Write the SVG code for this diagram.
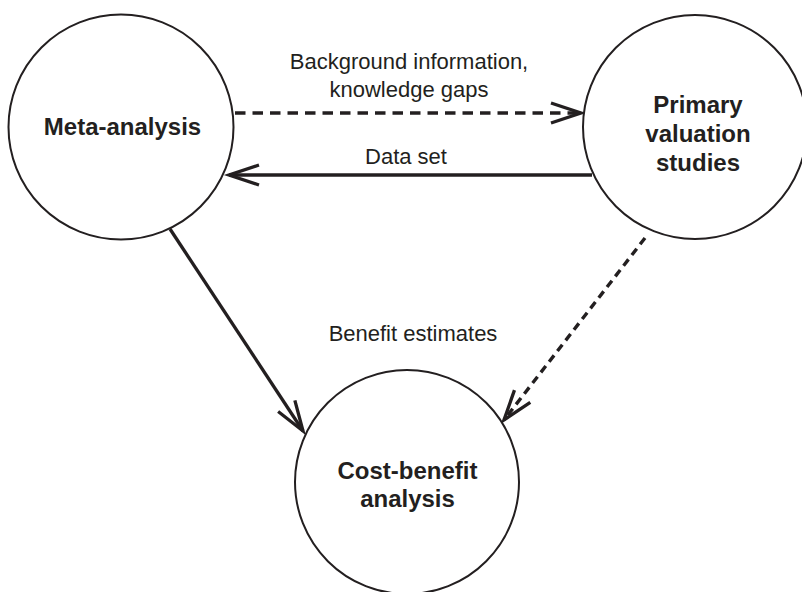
<svg xmlns="http://www.w3.org/2000/svg" width="802" height="592" viewBox="0 0 802 592">
  <style>
    .node { fill: #ffffff; stroke: #231f20; stroke-width: 2; }
    .title { font-family: "Liberation Sans", Arial, sans-serif; font-size: 24px; font-weight: bold; fill: #231f20; text-anchor: middle; }
    .label { font-family: "Liberation Sans", Arial, sans-serif; font-size: 22px; fill: #231f20; text-anchor: middle; }
    .link { fill: none; stroke: #231f20; stroke-width: 3.3; }
    .dashed { stroke-width: 3.6; stroke-dasharray: 10.5 7; }
    .dashed-fine { stroke-width: 3.4; stroke-dasharray: 8 5.5; }
  </style>
  <defs>
    <marker id="open-arrow" markerUnits="userSpaceOnUse" orient="auto" refX="0" refY="0" overflow="visible">
      <path d="M-30,-10 L0,0 L-30,10" fill="none" stroke="#231f20" stroke-width="3.3" stroke-dasharray="none"/>
    </marker>
  </defs>

  <g id="connectors">
    <!-- Meta-analysis to Primary valuation studies -->
    <line class="link dashed" x1="235" y1="113" x2="581" y2="113" marker-end="url(#open-arrow)"/>
    <!-- Primary valuation studies to Meta-analysis -->
    <line class="link" x1="592" y1="175" x2="229" y2="175" marker-end="url(#open-arrow)"/>
    <!-- Meta-analysis to Cost-benefit analysis -->
    <line class="link" x1="170" y1="229" x2="303" y2="431" marker-end="url(#open-arrow)"/>
    <!-- Primary valuation studies to Cost-benefit analysis -->
    <line class="link dashed-fine" x1="645" y1="238" x2="504" y2="420" marker-end="url(#open-arrow)"/>
  </g>

  <g id="edge-labels">
    <text class="label" x="409" y="69">Background information,</text>
    <text class="label" x="409" y="97">knowledge gaps</text>
    <text class="label" x="406" y="164">Data set</text>
    <text class="label" x="413" y="341">Benefit estimates</text>
  </g>

  <g id="meta-analysis">
    <circle class="node" cx="121" cy="127" r="112.5"/>
    <text class="title" x="122.5" y="135">Meta-analysis</text>
  </g>

  <g id="primary-valuation-studies">
    <circle class="node" cx="695" cy="127" r="112"/>
    <text class="title" x="698" y="113">Primary</text>
    <text class="title" x="698" y="142">valuation</text>
    <text class="title" x="698" y="171">studies</text>
  </g>

  <g id="cost-benefit-analysis">
    <circle class="node" cx="407" cy="482" r="112"/>
    <text class="title" x="407.5" y="479">Cost-benefit</text>
    <text class="title" x="407.5" y="507">analysis</text>
  </g>
</svg>
